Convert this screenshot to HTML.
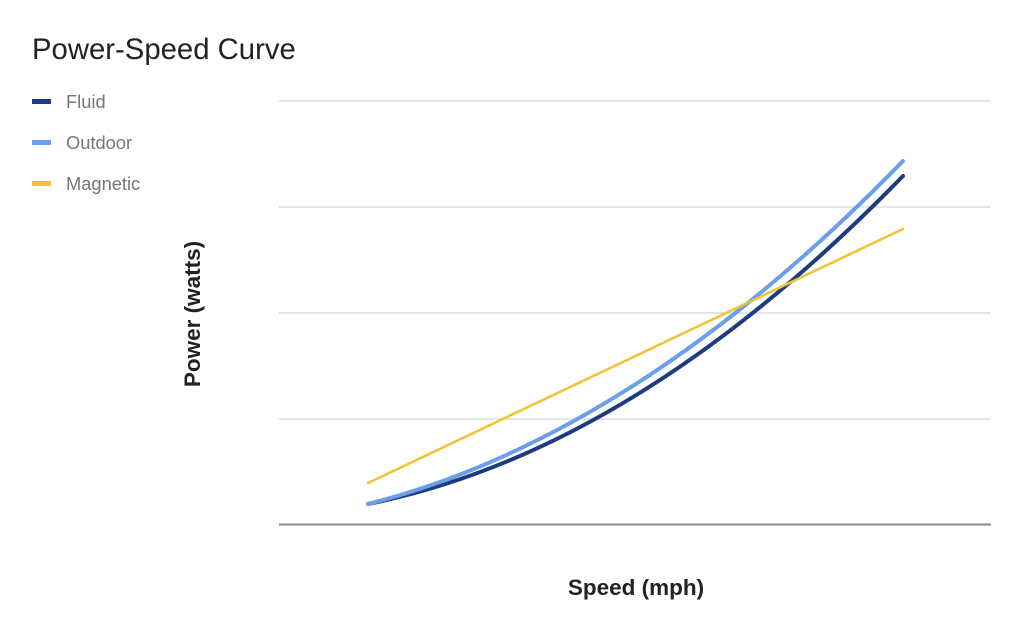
<!DOCTYPE html>
<html>
<head>
<meta charset="utf-8">
<style>
  html, body { margin: 0; padding: 0; background: #ffffff; }
  body { width: 1024px; height: 634px; overflow: hidden; }
  svg { display: block; }
</style>
</head>
<body>
<svg width="1024" height="634" viewBox="0 0 1024 634" xmlns="http://www.w3.org/2000/svg">
  <rect x="0" y="0" width="1024" height="634" fill="#ffffff"/>

  <!-- Title -->
  <text x="32" y="59" font-family="Liberation Sans, Arial, sans-serif" font-size="29.3" fill="#222222">Power-Speed Curve</text>

  <!-- Legend -->
  <rect x="32" y="99" width="19" height="5" fill="#1c3b80"/>
  <text x="66" y="108" font-family="Liberation Sans, Arial, sans-serif" font-size="18.3" fill="#777777">Fluid</text>
  <rect x="32" y="140" width="19" height="5" fill="#6d9eeb"/>
  <text x="66" y="149" font-family="Liberation Sans, Arial, sans-serif" font-size="18.3" fill="#777777">Outdoor</text>
  <rect x="32" y="181" width="19" height="5" fill="#f1c232"/>
  <text x="66" y="190" font-family="Liberation Sans, Arial, sans-serif" font-size="18.3" fill="#777777">Magnetic</text>

  <!-- Gridlines -->
  <g stroke="#dddddd" stroke-width="1.5">
    <line x1="279" y1="101" x2="991" y2="101"/>
    <line x1="279" y1="207" x2="991" y2="207"/>
    <line x1="279" y1="313" x2="991" y2="313"/>
    <line x1="279" y1="419" x2="991" y2="419"/>
  </g>
  <line x1="279" y1="524.5" x2="991" y2="524.5" stroke="#8a8a8a" stroke-width="2"/>

  <!-- Series -->
  <path fill="none" stroke="#1c3b80" stroke-width="4" stroke-linecap="round"
    d="M368,504 Q635.5,451 903,176"/>
  <path fill="none" stroke="#6d9eeb" stroke-width="4" stroke-linecap="round"
    d="M368,504 Q635.5,436 903,161"/>
  <line x1="368" y1="483" x2="903" y2="229" stroke="#f1c232" stroke-width="2.5" stroke-linecap="round"/>

  <!-- Axis titles -->
  <text x="636" y="595" text-anchor="middle" font-family="Liberation Sans, Arial, sans-serif" font-size="22.5" font-weight="bold" fill="#222222">Speed (mph)</text>
  <text x="0" y="0" transform="translate(200,314) rotate(-90)" text-anchor="middle" font-family="Liberation Sans, Arial, sans-serif" font-size="22.5" font-weight="bold" fill="#222222">Power (watts)</text>
</svg>
</body>
</html>
